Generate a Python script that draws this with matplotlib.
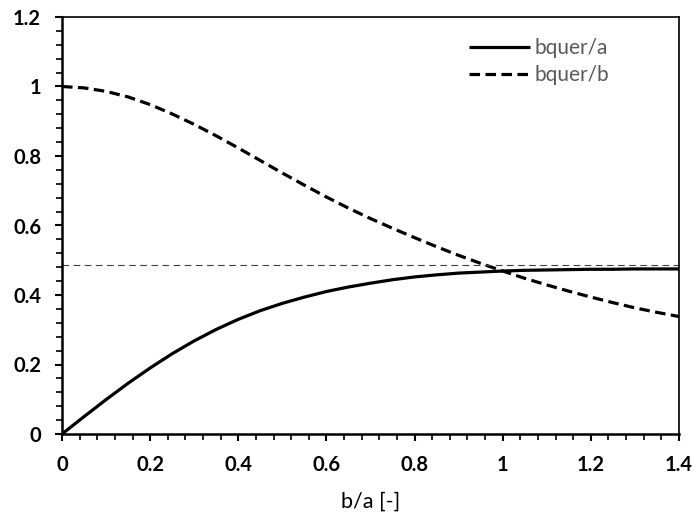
import matplotlib
matplotlib.use("Agg")
import matplotlib.pyplot as plt
from matplotlib.ticker import MultipleLocator, FuncFormatter

# b/a ratio
ratio = [0.00, 0.05, 0.10, 0.15, 0.20, 0.25, 0.30, 0.35, 0.40, 0.45,
         0.50, 0.55, 0.60, 0.65, 0.70, 0.75, 0.80, 0.85, 0.90, 0.95,
         1.00, 1.05, 1.10, 1.15, 1.20, 1.25, 1.30, 1.35, 1.40]

# bquer/a
bquer_a = [0.000, 0.050, 0.099, 0.146, 0.190, 0.231, 0.268, 0.301, 0.330, 0.355,
           0.376, 0.394, 0.410, 0.423, 0.434, 0.444, 0.452, 0.458, 0.463, 0.466,
           0.469, 0.471, 0.472, 0.473, 0.474, 0.474, 0.475, 0.475, 0.475]

# bquer/b
bquer_b = [1.000, 0.996, 0.986, 0.970, 0.948, 0.921, 0.891, 0.858, 0.823, 0.787,
           0.751, 0.716, 0.682, 0.650, 0.620, 0.592, 0.565, 0.539, 0.514, 0.491,
           0.469, 0.448, 0.429, 0.411, 0.394, 0.378, 0.363, 0.350, 0.338]

# limit value of bquer/a
limit = 0.487

fig = plt.figure(figsize=(6.96, 5.12), dpi=100)
ax = fig.add_axes([62 / 696, 1 - 434 / 512, (679 - 62) / 696, (434 - 17) / 512])

ax.plot(ratio, bquer_a, color="black", lw=2.3, label="bquer/a", solid_capstyle="butt")
ax.plot(ratio, bquer_b, color="black", lw=2.3, dashes=(3.3, 1.7), label="bquer/b")
ax.axhline(limit, color="#404040", lw=0.8, dashes=(6, 4))

ax.set_xlim(0, 1.4)
ax.set_ylim(0, 1.2)

ax.xaxis.set_major_locator(MultipleLocator(0.2))
ax.xaxis.set_minor_locator(MultipleLocator(0.04))
ax.yaxis.set_major_locator(MultipleLocator(0.2))
ax.yaxis.set_minor_locator(MultipleLocator(0.04))

fmt = FuncFormatter(lambda v, p: f"{v:g}" if abs(v) > 1e-9 else "0")
ax.xaxis.set_major_formatter(fmt)
ax.yaxis.set_major_formatter(fmt)

ax.tick_params(axis="both", which="major", direction="out", length=5, width=1.5, color="black")
ax.tick_params(axis="both", which="minor", direction="out", length=4, width=1.2, color="black")
ax.tick_params(axis="x", which="major", pad=10)
ax.tick_params(axis="y", which="major", pad=10)
for lab in ax.get_xticklabels() + ax.get_yticklabels():
    lab.set_fontfamily("Lato")
    lab.set_fontweight("bold")
    lab.set_fontsize(14.5)

for side in ("left", "bottom"):
    ax.spines[side].set_linewidth(1.8)
for side in ("top", "right"):
    ax.spines[side].set_linewidth(1.2)

ax.set_xlabel("b/a [-]", fontfamily="Lato", fontsize=15.5, labelpad=12)

leg = ax.legend(loc="upper left", bbox_to_anchor=(0.63, 0.995), frameon=False,
                handlelength=2.9, handletextpad=0.2, labelspacing=0.35,
                prop=dict(family="Lato", size=15))
for t in leg.get_texts():
    t.set_color("#595959")

fig.savefig("out.png", dpi=100)
